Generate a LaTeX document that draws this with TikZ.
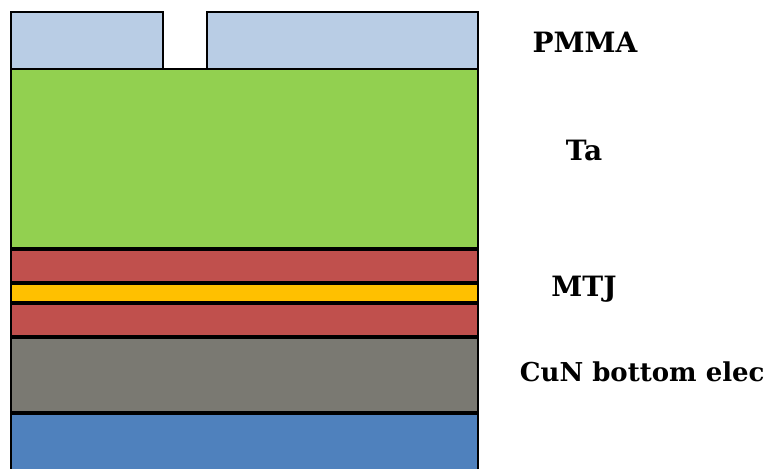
\documentclass[tikz,border=0pt]{standalone}
\usepackage{fontspec}
\setmainfont{DejaVu Serif}
\usepackage{tikz}
\definecolor{pmmablue}{RGB}{185,205,229}
\definecolor{tagreen}{RGB}{146,208,80}
\definecolor{mtjred}{RGB}{192,80,77}
\definecolor{barrier}{RGB}{255,192,0}
\definecolor{cungray}{RGB}{122,121,114}
\definecolor{subblue}{RGB}{79,129,189}

\begin{document}
\begin{tikzpicture}[x=1pt, y=-1pt, line width=1.8pt,
  layer/.style={draw=black},
  lbl/.style={font=\fontsize{28}{30}\selectfont\bfseries, inner sep=0pt}]
  \useasboundingbox (0,0) rectangle (770,468);

  % PMMA with opening
  \draw[layer, fill=pmmablue] (11,12) rectangle (163,69);
  \draw[layer, fill=pmmablue] (207,12) rectangle (478,69);

  % Ta
  \draw[layer, fill=tagreen] (11,69) rectangle (478,248);

  % MTJ stack
  \draw[layer, fill=mtjred] (11,250) rectangle (478,282);
  \draw[layer, fill=barrier] (11,284) rectangle (478,302);
  \draw[layer, fill=mtjred] (11,304) rectangle (478,336);

  % bottom electrode and substrate
  \draw[layer, fill=cungray] (11,338) rectangle (478,412);
  \draw[layer, fill=subblue] (11,414) rectangle (478,472);

  % labels
  \node[lbl] (pmma) at (585,42) {PMMA};
  \node[lbl] (ta) at (584,150) {Ta};
  \node[lbl] (mtj) at (584,289) {MTJ};
  \node[lbl, font=\fontsize{26}{28}\selectfont\bfseries, anchor=west] (cun)
    at (519,372) {CuN bottom elec};
\end{tikzpicture}
\end{document}
